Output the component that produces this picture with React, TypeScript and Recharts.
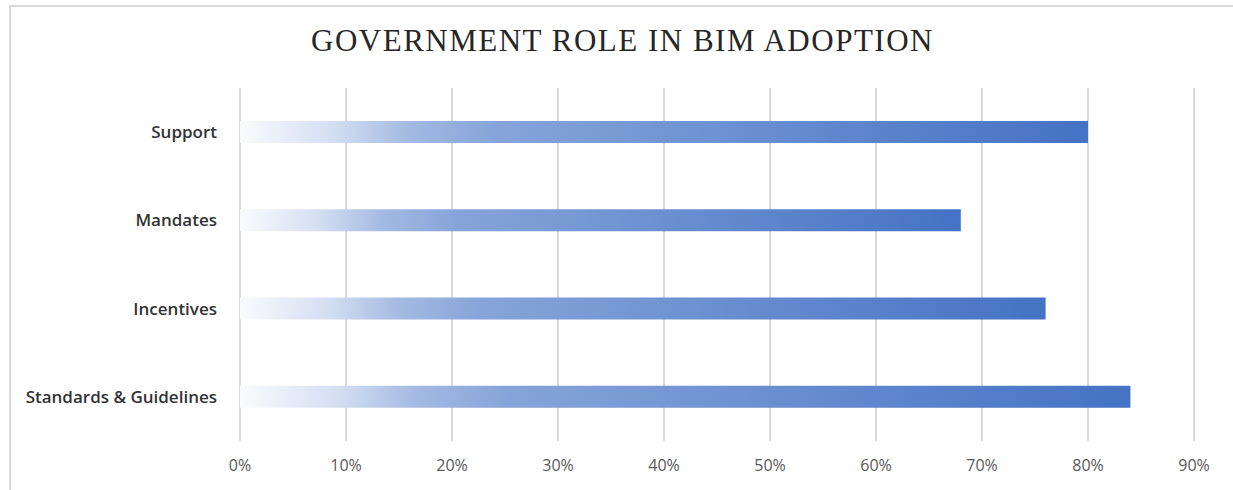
import React from "react";
import { BarChart, Bar, XAxis, YAxis, CartesianGrid } from "recharts";

const categories = ["Support", "Mandates", "Incentives", "Standards & Guidelines"];
const values = [80, 68, 76, 84];
const xTicks = [0, 10, 20, 30, 40, 50, 60, 70, 80, 90];

const data = categories.map((name, i) => ({ name, value: values[i] }));

export default function App() {
  return (
    <div style={{ position: "absolute", left: 0, top: 0, width: 1233, height: 490, background: "#fff", overflow: "hidden" }}>
      <div
        style={{
          position: "absolute",
          left: 9,
          top: 5,
          width: 1230,
          height: 490,
          borderTop: "2px solid #d9d9d9",
          borderLeft: "2px solid #d9d9d9",
          boxSizing: "border-box",
        }}
      />
      <div
        style={{
          position: "absolute",
          left: 0,
          top: 21,
          width: 1245,
          textAlign: "center",
          fontFamily: "'Liberation Serif', 'DejaVu Serif', serif",
          fontSize: 31,
          letterSpacing: 1.5,
          color: "#262626",
          lineHeight: "40px",
          whiteSpace: "nowrap",
        }}
      >
        GOVERNMENT ROLE IN BIM ADOPTION
      </div>
      <div style={{ position: "absolute", left: 0, top: 0 }}>
        <BarChart
          width={1233}
          height={490}
          data={data}
          layout="vertical"
          margin={{ top: 88, right: 39, bottom: 0, left: 0 }}
          barCategoryGap={0}
        >
          <defs>
            <linearGradient id="barGrad" x1="0" y1="0" x2="1" y2="0">
              <stop offset="0" stopColor="#fafbfe" />
              <stop offset="0.11" stopColor="#d3def1" />
              <stop offset="0.2" stopColor="#a3b9e2" />
              <stop offset="0.3" stopColor="#86a4d9" />
              <stop offset="1" stopColor="#4472c4" />
            </linearGradient>
          </defs>
          <CartesianGrid horizontal={false} stroke="#d9d9d9" strokeWidth={2} />
          <XAxis
            type="number"
            domain={[0, 90]}
            ticks={xTicks}
            interval={0}
            tickFormatter={(v: number) => `${v}%`}
            axisLine={false}
            tickLine={false}
            tickSize={0}
            tickMargin={19}
            height={49}
            tick={{ fill: "#595959", fontSize: 16, fontFamily: "'Open Sans', sans-serif" }}
          />
          <YAxis
            type="category"
            dataKey="name"
            width={240}
            axisLine={false}
            tickLine={false}
            tickSize={0}
            tickMargin={23}
            tick={{ fill: "#333333", fontSize: 17, fontWeight: 600, fontFamily: "'Open Sans', sans-serif" }}
          />
          <Bar dataKey="value" fill="url(#barGrad)" barSize={22} isAnimationActive={false} />
        </BarChart>
      </div>
    </div>
  );
}
